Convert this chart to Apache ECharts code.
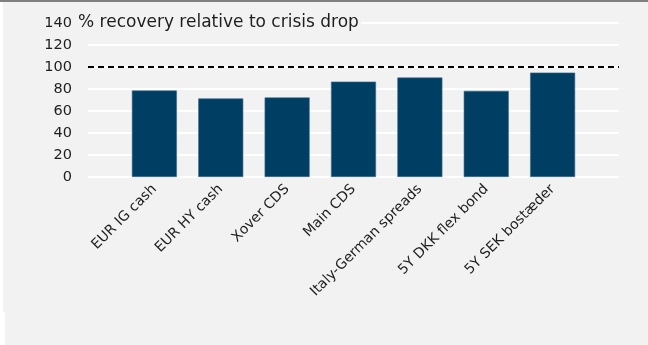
<!DOCTYPE html>
<html>
<head>
<meta charset="utf-8">
<script src="https://cdn.jsdelivr.net/npm/echarts@6/dist/echarts.min.js"></script>
<style>
  html, body { margin: 0; padding: 0; background: #ffffff; }
  #chart { width: 648px; height: 345px; }
</style>
</head>
<body>
<div id="chart"></div>
<script>
// Recovery of each market measure, as % of its crisis drop
const categories = ['EUR IG cash', 'EUR HY cash', 'Xover CDS', 'Main CDS', 'Italy-German spreads', '5Y DKK flex bond', '5Y SEK bostæder'];
const recovery = [78.6, 71.4, 72.3, 86.7, 90.4, 78.3, 94.9];
const fullRecovery = 100;
const yTicks = [0, 20, 40, 60, 80, 100, 120, 140];
const axisTitle = '% recovery relative to crisis drop';

// Empty slots either side keep the gridlines reaching past the outer bars
const axisCategories = [''].concat(categories, ['']);
const barData = [null].concat(recovery, [null]);

const textColor = '#1e1e1e';
const font = 'DejaVu Sans';

const chart = echarts.init(document.getElementById('chart'), null, { renderer: 'canvas' });
chart.setOption({
  backgroundColor: '#f2f2f2',
  animation: false,
  graphic: [
    { type: 'rect', shape: { x: 0, y: 0, width: 648, height: 2 }, style: { fill: '#808080' }, z: 100 },
    { type: 'rect', shape: { x: 0, y: 2, width: 3, height: 343 }, style: { fill: '#ffffff' }, z: 100 },
    { type: 'rect', shape: { x: 0, y: 312, width: 5, height: 33 }, style: { fill: '#ffffff' }, z: 100 }
  ],
  title: {
    text: axisTitle,
    left: 76,
    top: 14,
    padding: [0, 2, 0, 2],
    backgroundColor: '#f2f2f2',
    textStyle: { fontFamily: font, fontSize: 17, fontWeight: 'normal', color: textColor }
  },
  grid: { left: 88, right: 29, top: 23, bottom: 168, containLabel: false },
  xAxis: {
    type: 'category',
    data: axisCategories,
    boundaryGap: false,
    axisLine: { show: false },
    axisTick: { show: false },
    splitLine: { show: false },
    axisLabel: {
      interval: 0,
      rotate: 45,
      margin: 10,
      fontFamily: font,
      fontSize: 14,
      color: textColor
    }
  },
  yAxis: {
    type: 'value',
    min: yTicks[0],
    max: yTicks[yTicks.length - 1],
    interval: yTicks[1] - yTicks[0],
    axisLine: { show: false },
    axisTick: { show: false },
    splitLine: { show: true, lineStyle: { color: '#ffffff', width: 2 } },
    axisLabel: {
      margin: 16,
      fontFamily: font,
      fontSize: 14.5,
      color: textColor
    }
  },
  series: [{
    type: 'bar',
    data: barData,
    barWidth: 45,
    itemStyle: { color: '#003f64', borderColor: '#3a6886', borderWidth: 0.6 },
    markLine: {
      silent: true,
      symbol: 'none',
      label: { show: false },
      lineStyle: { color: '#000000', width: 2, type: [6, 4] },
      data: [{ yAxis: fullRecovery }]
    }
  }]
});
</script>
</body>
</html>
